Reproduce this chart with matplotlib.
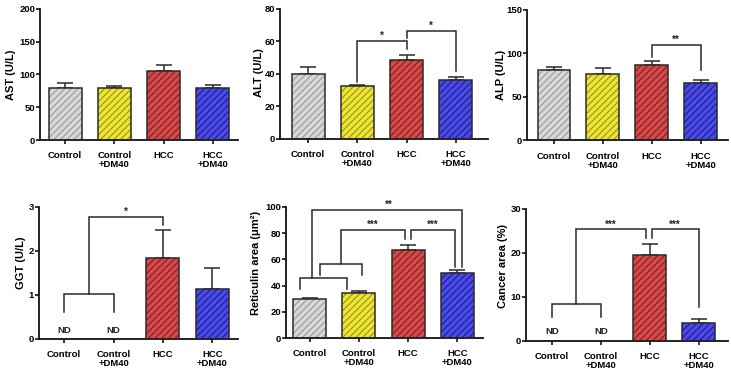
import numpy as np
import matplotlib
matplotlib.use("Agg")
import matplotlib.pyplot as plt

plt.rcParams['font.family'] = ['Liberation Sans', 'DejaVu Sans']
plt.rcParams['font.weight'] = 'bold'
plt.rcParams['hatch.linewidth'] = 0.8

# ---------------- data ----------------
categories = ["Control", "Control\n+DM40", "HCC", "HCC\n+DM40"]

ast_mean = [80.0, 79.5, 105.0, 79.5]
ast_err = [7.5, 3.5, 9.5, 4.5]

alt_mean = [40.0, 32.3, 48.3, 36.4]
alt_err = [3.9, 1.0, 3.3, 1.5]

alp_mean = [81.0, 75.8, 86.7, 65.9]
alp_err = [3.0, 6.8, 3.8, 3.8]

ggt_mean = [np.nan, np.nan, 1.84, 1.13]
ggt_err = [0.0, 0.0, 0.64, 0.47]

ret_mean = [30.1, 34.7, 67.0, 49.4]
ret_err = [0.5, 1.3, 3.9, 2.2]

can_mean = [np.nan, np.nan, 19.5, 4.2]
can_err = [0.0, 0.0, 2.5, 0.9]

face_colors = ["#d8d8d8", "#ece53a", "#d24a4a", "#4a4ae8"]
hatch_colors = ["#9a9a9a", "#9a9400", "#8a1c1c", "#1c1c8a"]

# significance brackets: polylines in data coords, and star labels
alt_brackets = [([1, 1, 2, 2], [34.9, 60.3, 60.3, 55.4]),
                ([2, 2, 3, 3], [62.2, 66.7, 66.7, 42.0])]
alt_stars = [(1.5, 60.3, "*"), (2.5, 66.7, "*")]

alp_brackets = [([2, 2, 3, 3], [96.0, 109.5, 109.5, 80.3])]
alp_stars = [(2.5, 109.5, "**")]

ggt_brackets = [([0, 0, 1, 1], [0.62, 1.02, 1.02, 0.62]),
                ([0.5, 0.5, 2, 2], [1.02, 2.77, 2.77, 2.58])]
ggt_stars = [(1.25, 2.77, "*")]

ret_brackets = [([-0.2, -0.2, 0.75, 0.75], [37.5, 45.6, 45.6, 37.5]),
                ([0.22, 0.22, 1.06, 1.06], [48.1, 56.2, 56.2, 48.1]),
                ([0.04, 0.04, 3.09, 3.09], [45.6, 97.5, 97.5, 54.4]),
                ([0.64, 0.64, 1.94, 1.94], [56.2, 82.3, 82.3, 75.2]),
                ([2.06, 2.06, 2.95, 2.95], [75.2, 82.3, 82.3, 54.4])]
ret_stars = [(1.6, 97.5, "**"), (1.29, 82.3, "***"), (2.5, 82.3, "***")]

can_brackets = [([0, 0, 1, 1], [5.5, 8.5, 8.5, 5.5]),
                ([0.5, 0.5, 1.92, 1.92], [8.5, 25.4, 25.4, 23.3]),
                ([2.04, 2.04, 3.0, 3.0], [23.3, 25.4, 25.4, 7.8])]
can_stars = [(1.21, 25.4, "***"), (2.52, 25.4, "***")]

W, H = 731, 378
fig = plt.figure(figsize=(W / 100, H / 100), dpi=100)

LW = 1.1
EDGE = "#2a2a2a"


def make_ax(left, right, top, bottom):
    return fig.add_axes([left / W, 1 - bottom / H, (right - left) / W, (bottom - top) / H])


def panel(ax, means, errs, ylim, yticks, ylabel, xlim, label_x_px, label_yfrac,
          left_px, width_px, brackets, stars, nd=False, nd_y=0.0):
    x = np.arange(len(categories))
    m = np.array(means, dtype=float)
    e = np.array(errs, dtype=float)
    valid = ~np.isnan(m)
    # error bars (upper only)
    for i in x[valid]:
        ax.errorbar(i, m[i], yerr=[[0], [e[i]]], fmt='none', ecolor=EDGE,
                    elinewidth=LW, capsize=5.5, capthick=LW, zorder=1)
    for i in x[valid]:
        ax.bar(i, m[i], width=0.67, color=face_colors[i], hatch="/////",
               edgecolor=hatch_colors[i], linewidth=0, zorder=2)
        ax.bar(i, m[i], width=0.67, fill=False, edgecolor=EDGE, linewidth=LW, zorder=3)
    if nd:
        for i in x[~valid]:
            ax.text(i, nd_y, "ND", ha='center', va='center', fontsize=6.8,
                    fontweight='bold', color='#222222')
    for xs, ys in brackets:
        ax.plot(xs, ys, color=EDGE, lw=LW, solid_joinstyle='miter', clip_on=False, zorder=4)
    for sx, sy, s in stars:
        ax.annotate(s, (sx, sy), xytext=(0, 1.2), textcoords='offset points',
                    ha='center', va='baseline', fontsize=7, fontweight='bold',
                    color='#222222', annotation_clip=False)
    ax.set_xlim(*xlim)
    ax.set_ylim(*ylim)
    ax.set_yticks(yticks)
    ax.set_xticks(x)
    ax.set_xticklabels(categories, fontsize=6.8, fontweight='bold', linespacing=1.0)
    ax.tick_params(axis='y', labelsize=6.8, length=2.8, width=LW, pad=0.8, direction='out')
    ax.tick_params(axis='x', length=3, width=LW, pad=5, direction='out')
    for lbl in ax.get_yticklabels():
        lbl.set_fontweight('bold')
    for sp in ['top', 'right']:
        ax.spines[sp].set_visible(False)
    for sp in ['left', 'bottom']:
        ax.spines[sp].set_linewidth(1.3)
        ax.spines[sp].set_color('#111111')
    ax.set_ylabel(ylabel, fontsize=8, fontweight='bold')
    # label_x_px is the right edge (anchor) of the rotated label
    ax.yaxis.set_label_coords((label_x_px - left_px) / width_px, label_yfrac)


# top row
ax1 = make_ax(40, 238, 9, 140)
panel(ax1, ast_mean, ast_err, (0, 200), [0, 50, 100, 150, 200], "AST (U/L)",
      (-0.51, 3.51), 16.5, 0.5, 40, 198, [], [])

ax2 = make_ax(280, 488, 9, 138.5)
panel(ax2, alt_mean, alt_err, (0, 80), [0, 20, 40, 60, 80], "ALT (U/L)",
      (-0.57, 3.65), 263.5, 0.51, 280, 208, alt_brackets, alt_stars)

ax3 = make_ax(527, 728, 9.5, 140.5)
panel(ax3, alp_mean, alp_err, (0, 150), [0, 50, 100, 150], "ALP (U/L)",
      (-0.55, 3.56), 505.5, 0.5, 527, 201, alp_brackets, alp_stars)

# bottom row
ax4 = make_ax(39, 238, 206.7, 339)
panel(ax4, ggt_mean, ggt_err, (0, 3), [0, 1, 2, 3], "GGT (U/L)",
      (-0.51, 3.52), 25.5, 0.58, 39, 199, ggt_brackets, ggt_stars, nd=True, nd_y=0.2)

ax5 = make_ax(286, 483, 206.7, 338.3)
panel(ax5, ret_mean, ret_err, (0, 100), [0, 20, 40, 60, 80, 100], "Reticulin area (μm²)",
      (-0.48, 3.52), 261, 0.57, 286, 197, ret_brackets, ret_stars)

ax6 = make_ax(526, 728, 209, 341)
panel(ax6, can_mean, can_err, (0, 30), [0, 10, 20, 30], "Cancer area (%)",
      (-0.53, 3.6), 508, 0.57, 526, 202, can_brackets, can_stars, nd=True, nd_y=2.1)

fig.savefig("out.png", dpi=100)
